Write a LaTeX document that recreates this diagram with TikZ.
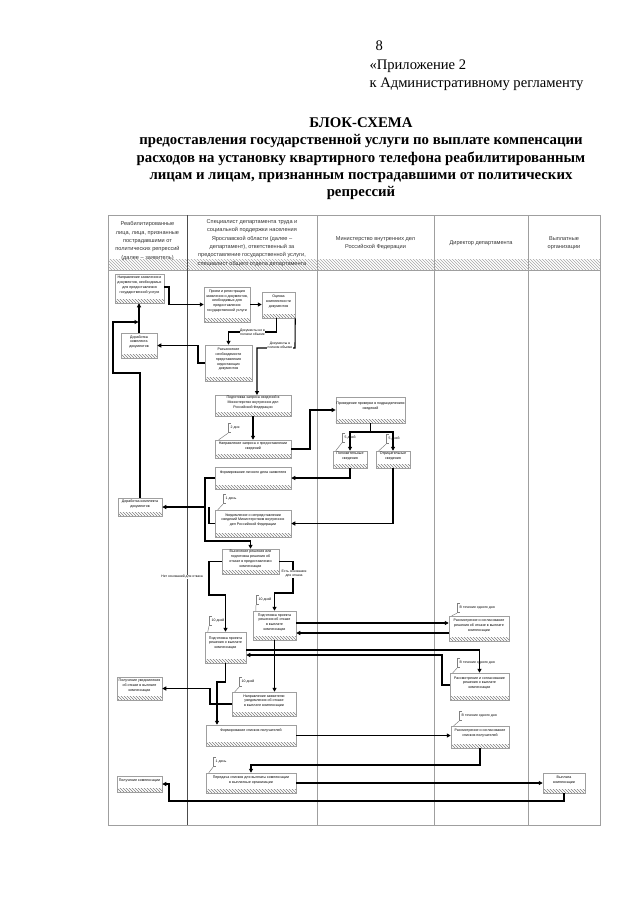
\documentclass[tikz,border=0pt]{standalone}
\usepackage{fontspec}
\setmainfont{Liberation Serif}
\newfontfamily\arial{Liberation Sans}
\usetikzlibrary{arrows.meta,patterns}

\begin{document}
\begin{tikzpicture}[
    x=1pt, y=-1pt,
    lane/.style={draw=gray!75, line width=0.8pt},
    lanehead/.style={font=\arial\fontsize{5.6}{8.4}\selectfont, align=center, text=black!80},
    proc/.style={draw=gray!75, line width=0.5pt, fill=white, align=center, inner sep=0.5pt,
        font=\arial\fontsize{3.6}{4.8}\selectfont,
        path picture={\fill[pattern=north west lines, pattern color=gray]
            (path picture bounding box.south west) rectangle ([yshift=4pt]path picture bounding box.south east);}},
    wh/.style 2 args={minimum width=#1pt, minimum height=#2pt},
    arr/.style={-{Triangle[length=4pt,width=4pt]}, line width=1.1pt},
    link/.style={line width=1.1pt},
    srok/.style={anchor=west, inner xsep=2.5pt, inner ysep=1pt, minimum height=10pt,
        font=\arial\fontsize{3.5}{4.5}\selectfont,
        path picture={\draw[gray, line width=0.5pt]
            ([shift={(3pt,-0.3pt)}]path picture bounding box.north west) -- ([shift={(0.3pt,-0.3pt)}]path picture bounding box.north west)
            -- ([shift={(0.3pt,0.3pt)}]path picture bounding box.south west) -- ([shift={(3pt,0.3pt)}]path picture bounding box.south west);}},
    noteline/.style={draw=gray, line width=0.5pt},
    lbl/.style={font=\arial\fontsize{3.4}{4.3}\selectfont, align=center, fill=white, inner sep=0.5pt},
]
\useasboundingbox (0,0) rectangle (640,905);

% Page header
\node[anchor=west, font=\fontsize{14.6}{16}\selectfont] (page) at (372,46) {8};
\node[anchor=west, font=\fontsize{14.6}{16}\selectfont] (pril) at (366,66) {«Приложение 2};
\node[anchor=west, font=\fontsize{14.6}{16}\selectfont] (reg) at (366,84) {к Административному регламенту};

% Title
\node[font=\bfseries\fontsize{14.8}{17.4}\selectfont, align=center, anchor=north] (title) at (361,114) {БЛОК-СХЕМА\\
    предоставления государственной услуги по выплате компенсации\\
    расходов на установку квартирного телефона реабилитированным\\
    лицам и лицам, признанным пострадавшими от политических\\
    репрессий};

% Swimlanes
\fill[pattern=north west lines, pattern color=gray!70] (108,259) rectangle (600,270);
\draw[lane] (108,215) rectangle (600,825);
\draw[lane] (108,270) -- (600,270);
\draw[lane, draw=gray!60!black] (187,215) -- (187,825);
\foreach \lx in {317,434,528}
    \draw[lane] (\lx,215) -- (\lx,825);

\node[lanehead] (h1) at (147.5,241) {Реабилитированные\\лица, лица, признанные\\пострадавшими от\\политических репрессий\\(далее – заявитель)};
\node[lanehead] (h2) at (252,243) {Специалист департамента труда и\\социальной поддержки населения\\Ярославской области (далее –\\департамент), ответственный за\\предоставление государственной услуги,\\специалист общего отдела департамента};
\node[lanehead] (h3) at (375.5,243) {Министерство внутренних дел\\Российской Федерации};
\node[lanehead] (h4) at (481,243) {Директор департамента};
\node[lanehead] (h5) at (564,243) {Выплатные\\организации};

% Applicant
\node[proc, wh={49}{29}] (z1) at (139.5,288.5) {Направление заявления и\\документов, необходимых\\для предоставления\\государственной услуги\\[3pt]};
\node[proc, wh={36}{25}] (z2) at (139,345.5) {Доработка\\комплекта\\документов\\[3pt]};
\node[proc, wh={44}{18}] (z3) at (140,507) {Доработка комплекта\\документов\\[2pt]};
\node[proc, wh={45}{23}] (z4) at (139.5,688.5) {Получение уведомления\\об отказе в выплате\\компенсации\\[2pt]};
\node[proc, wh={45}{16}] (z5) at (139.5,784) {Получение компенсации\\[3pt]};

% Department specialist
\node[proc, wh={46}{35}] (s1) at (227,304.5) {Прием и регистрация\\заявления и документов,\\необходимых для\\предоставления\\государственной услуги\\[3pt]};
\node[proc, wh={33}{26}] (s2) at (278.5,305) {Оценка\\комплектности\\документов\\[3pt]};
\node[proc, wh={47}{36}] (s3) at (228.5,363) {Разъяснение\\необходимости\\представления\\недостающих\\документов\\[3pt]};
\node[proc, wh={76}{21}] (s4) at (253,405.5) {Подготовка запроса сведений в\\Министерство внутренних дел\\Российской Федерации\\[2pt]};
\node[proc, wh={76}{18}] (s5) at (253,449) {Направление запроса о предоставлении\\сведений\\[2pt]};
\node[proc, wh={76}{22}] (s6) at (253,478) {Формирование личного дела заявителя\\[6pt]};
\node[proc, wh={76}{27}] (s7) at (253,523.5) {Уведомление о непредставлении\\сведений Министерством внутренних\\дел Российской Федерации\\[3pt]};
\node[proc, wh={57}{25}] (s8) at (250.5,561.5) {Вынесение решения или\\подготовка решения об\\отказе в предоставлении\\компенсации\\[1pt]};
\node[proc, wh={41}{31}] (s9) at (225.5,647.5) {Подготовка проекта\\решения о выплате\\компенсации\\[5pt]};
\node[proc, wh={43}{29}] (s10) at (274.5,625.5) {Подготовка проекта\\решения об отказе\\в выплате\\компенсации\\[2pt]};
\node[proc, wh={64}{24}] (s11) at (264,704) {Направление заявителю\\уведомления об отказе\\в выплате компенсации\\[2pt]};
\node[proc, wh={90}{21}] (s12) at (251,735.5) {Формирование списков получателей\\[5pt]};
\node[proc, wh={90}{20}] (s13) at (251,783) {Передача списков для выплаты компенсации\\в выплатные организации\\[2pt]};

% Ministry of internal affairs
\node[proc, wh={67}{26}] (m1) at (370.5,410) {Проведение проверки в подразделениях\\сведений\\[4pt]};
\node[proc, wh={34}{17}] (m2) at (350,459.5) {Положительные\\сведения\\[2pt]};
\node[proc, wh={34}{17}] (m3) at (393,459.5) {Отрицательные\\сведения\\[2pt]};

% Director
\node[proc, wh={60}{25}] (d1) at (479,628.5) {Рассмотрение и согласование\\решения об отказе в выплате\\компенсации\\[2pt]};
\node[proc, wh={59}{27}] (d2) at (479.5,686.5) {Рассмотрение и согласование\\решения о выплате\\компенсации\\[3pt]};
\node[proc, wh={58}{22}] (d3) at (480,737) {Рассмотрение и согласование\\списков получателей\\[3pt]};

% Payment organizations
\node[proc, wh={42}{20}] (v1) at (564,783) {Выплата\\компенсации\\[2pt]};

% Time limits
\node[srok] (n1) at (228,428) {2 дня};
\node[srok] (n2) at (342,437.5) {5 дней};
\node[srok] (n3) at (386,439) {5 дней};
\node[srok] (n4) at (223,499) {1 день};
\node[srok] (n5) at (256,600) {10 дней};
\node[srok] (n6) at (209,621) {10 дней};
\node[srok] (n7) at (457,608) {В течение одного дня};
\node[srok] (n8) at (457,663) {В течение одного дня};
\node[srok] (n9) at (239,682) {10 дней};
\node[srok] (n10) at (459,716) {В течение одного дня};
\node[srok] (n11) at (213,762) {1 день};
\draw[noteline] (n1.south west) -- ([xshift=4pt]s5.north west);
\draw[noteline] (n2.south west) -- ([xshift=3pt]m2.north west);
\draw[noteline] (n3.south west) -- ([xshift=3pt]m3.north west);
\draw[noteline] (n4.south west) -- ([xshift=3pt]s7.north west);
\draw[noteline] (n5.south west) -- ([xshift=3pt]s10.north west);
\draw[noteline] (n6.south west) -- ([xshift=3pt]s9.north west);
\draw[noteline] (n7.south west) -- ([xshift=3pt]d1.north west);
\draw[noteline] (n8.south west) -- ([xshift=3pt]d2.north west);
\draw[noteline] (n9.south west) -- ([xshift=3pt]s11.north west);
\draw[noteline] (n10.south west) -- ([xshift=3pt]d3.north west);
\draw[noteline] (n11.south west) -- ([xshift=3pt]s13.north west);

% Connectors
\coordinate (j1) at (139,322);
\coordinate (j2) at (370.5,432);
\coordinate (j3) at (205,507);
\coordinate (j4) at (217,704);

\draw[arr] ([yshift=1.5pt]z1.east) -- (169,287) |- (s1.west);
\draw[arr] (s1.east) -- (s1.east -| s2.west);
\draw[arr] ([xshift=-2pt]s2.south) -- (276.5,332) -| (s3.north)
    node[lbl, pos=0.25] (l1) {Документы не в\\полном объеме};
\draw[arr] (s2.south east) -- (295,348) -| (257,395);
\node[lbl] (l2) at (280,345) {Документы в\\полном объеме};
\draw[arr] (s3.west) -- (198,363) |- (z2.east);
\draw[arr] (z2.north) -- (z2.north |- z1.south);
\draw[arr] (z3.north) -- (140,373) -- (113,373) -- (113,322) -- ([xshift=-0.5pt]j1);

\draw[arr] (s4.south) -- (s5.north);
\draw[arr] (s5.east) -- (310,449) |- (m1.west);
\draw[link] (m1.south) -- (j2);
\draw[arr] (j2) -| (m2.north);
\draw[arr] (j2) -| (m3.north);
\draw[arr] (m2.south) |- (s6.east);
\draw[arr] (m3.south) |- (s7.east);

\draw[arr] (s6.west) -- (205,478) -- (205,541) -| (s8.north);
\draw[arr] (j3) -- (j3 -| z3.east);
\draw[link] (s7.west) -- (209,523.5) -- (209,507);
\draw[arr] (s8.west) -- (209,561.5) -- (209,595) -| (s9.north);
\draw[arr] (s8.east) -- (293,561.5) -- (293,593) -| (s10.north);
\node[lbl] (l3) at (182,577) {Нет оснований для отказа};
\node[lbl] (l4) at (294,574) {Есть основания\\для отказа};

\draw[arr] ([yshift=2.5pt]s10.east) -- ([yshift=2.5pt]s10.east -| d1.west);
\draw[arr] ([yshift=-4.5pt]d1.west) -- ([yshift=-4.5pt]d1.west -| s10.east);
\draw[arr] (s10.south) -- (s10.south |- s11.north);
\draw[arr] ([yshift=-2.5pt]s9.east) -| (d2.north);
\draw[arr] ([yshift=1.5pt]d2.west) -| (442,655) -- (442,655 -| s9.east);
\draw[arr] (s9.south) |- (217,682) -- (217,0 |- s12.north);
\draw[arr] (s11.west) -- (210,704) |- (z4.east);
\draw[arr] (s12.east) -- (s12.east -| d3.west);
\draw[arr] (d3.south) -- (480,765) -| (s13.north);
\draw[arr] (s13.east) -- (s13.east -| v1.west);
\draw[arr] (v1.south) |- (169,801) |- (z5.east);

\end{tikzpicture}
\end{document}
